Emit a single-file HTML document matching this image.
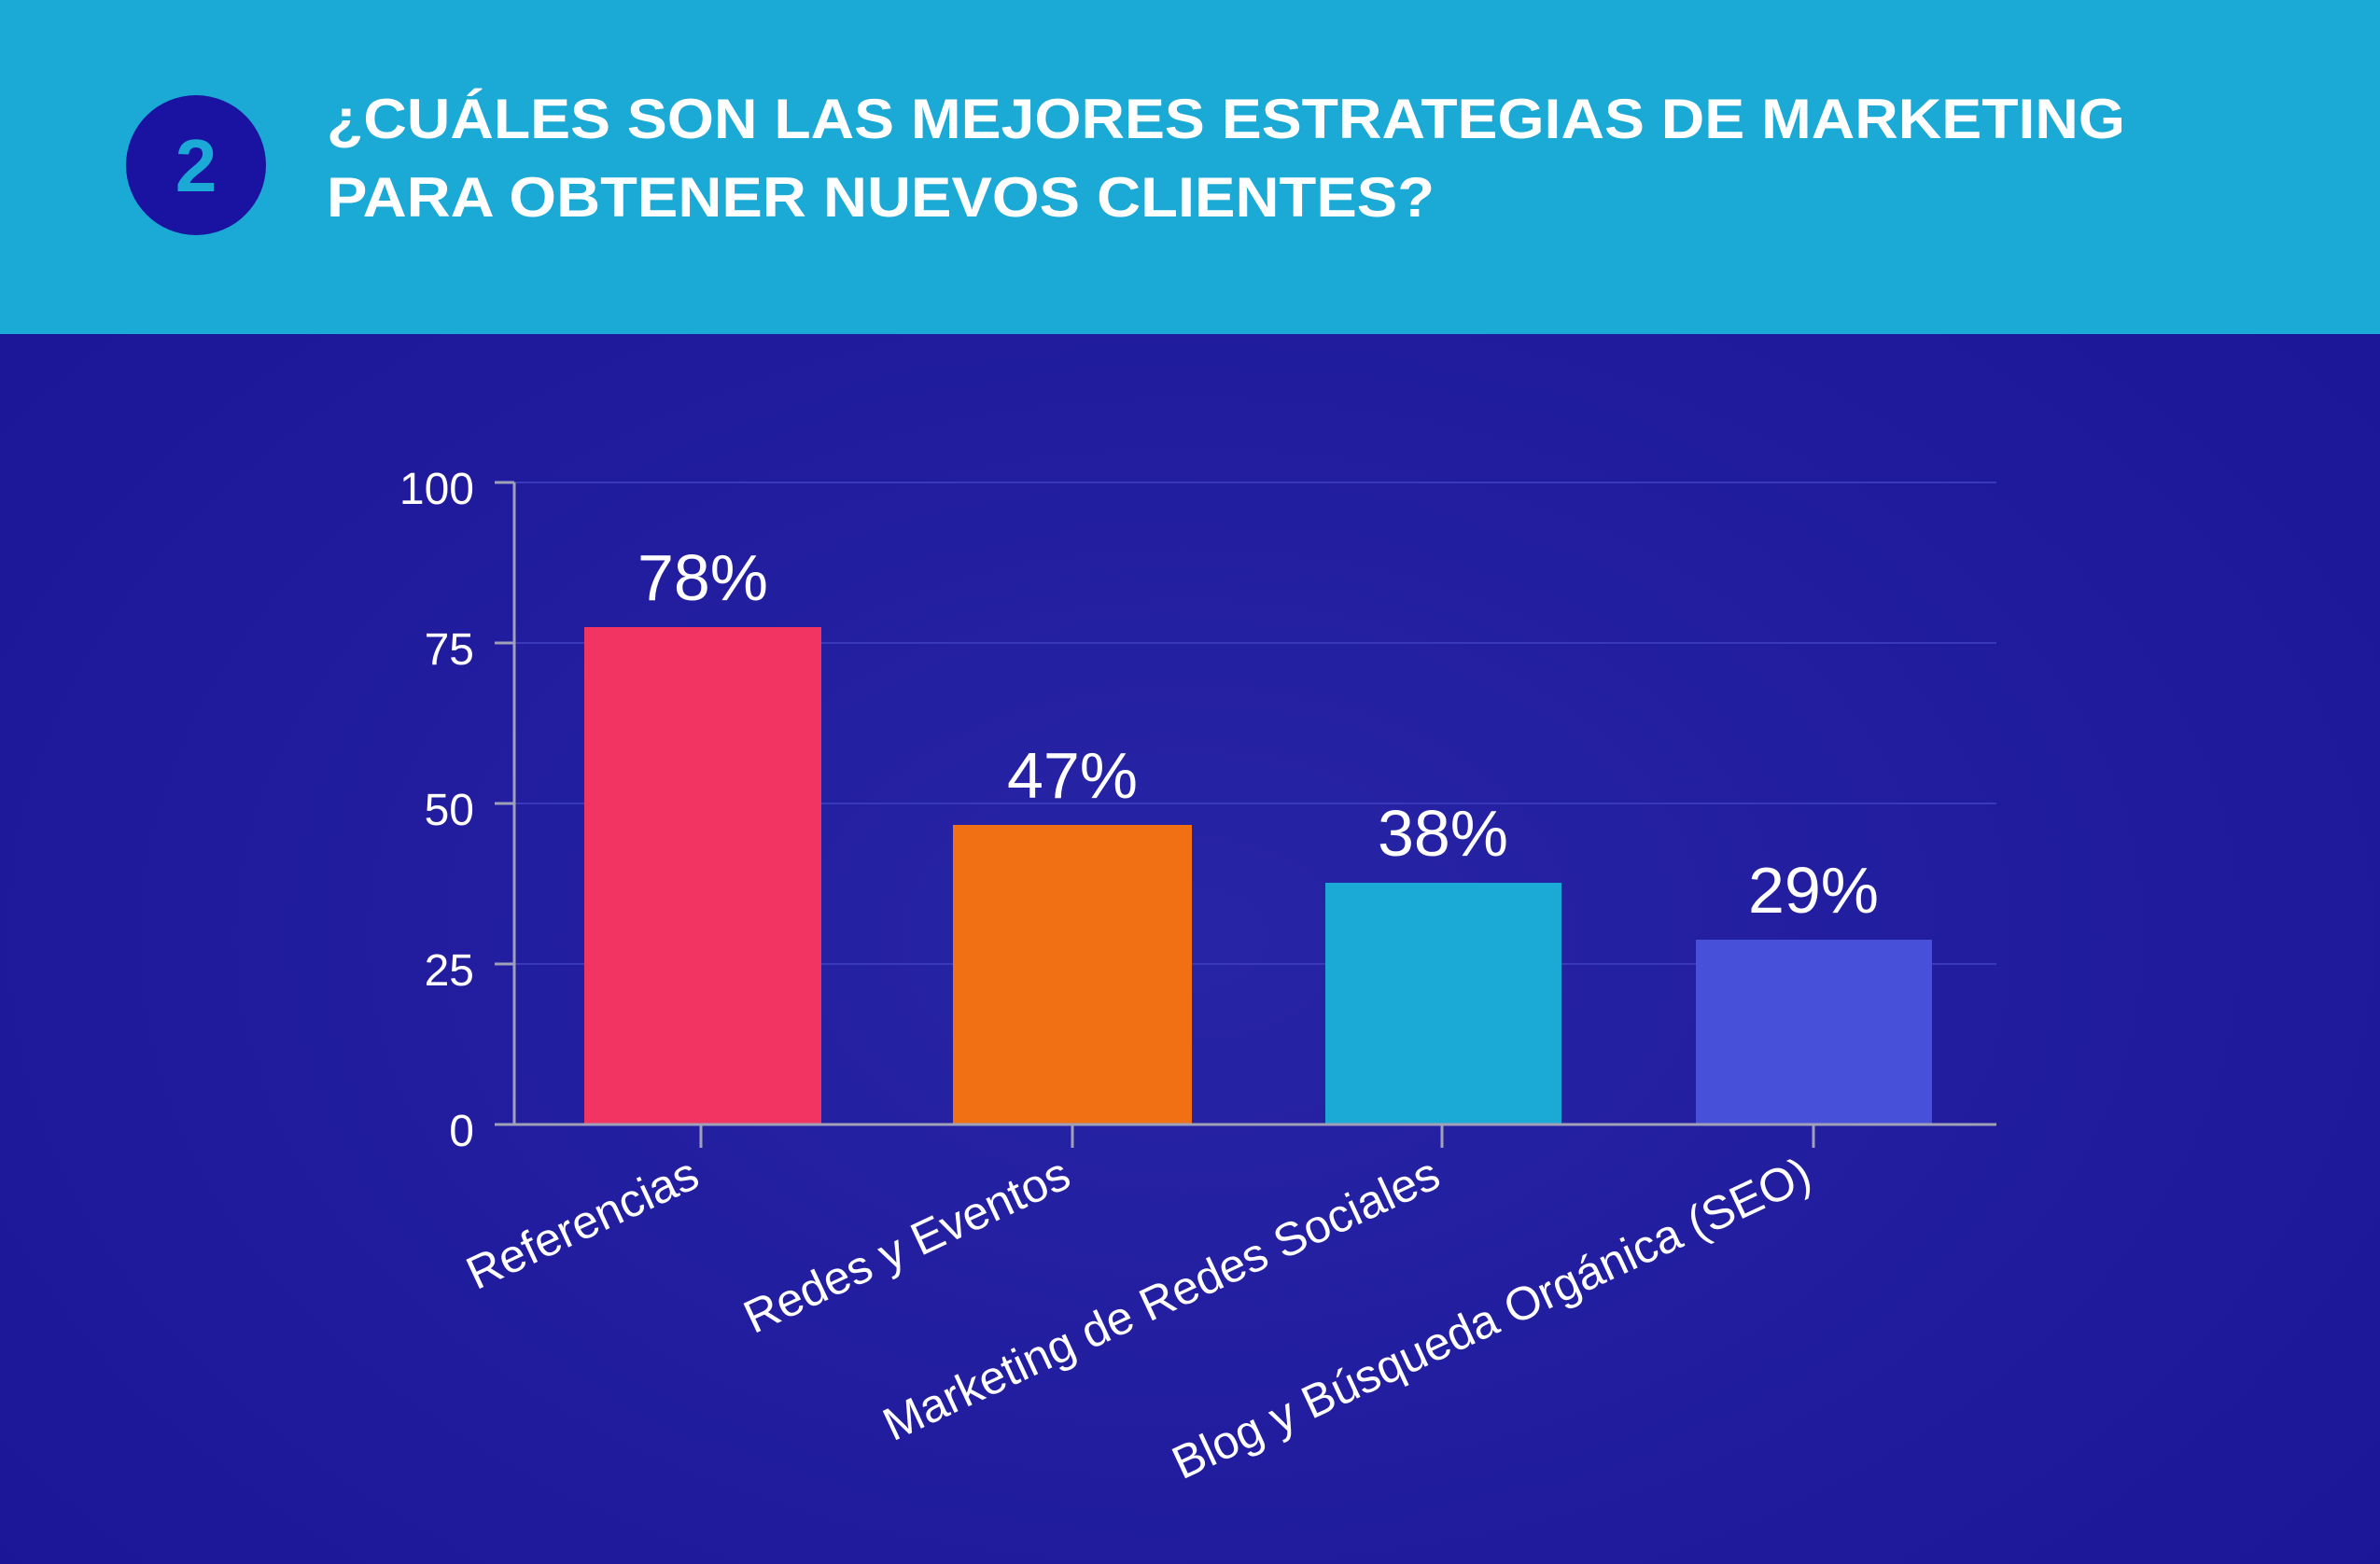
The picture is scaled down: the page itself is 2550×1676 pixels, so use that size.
<!DOCTYPE html>
<html><head><meta charset="utf-8"><style>
html,body{margin:0;padding:0;width:2550px;height:1676px;overflow:hidden;background:#1c1798}
svg{display:block}
</style></head><body>
<svg width="2550" height="1676" viewBox="0 0 2550 1676" xmlns="http://www.w3.org/2000/svg">
<defs>
<radialGradient id="bg" cx="0.5" cy="0.6" r="0.7">
<stop offset="0" stop-color="#2824a6"/>
<stop offset="1" stop-color="#1a1596"/>
</radialGradient>
</defs>
<rect x="0" y="0" width="2550" height="1676" fill="url(#bg)"/>
<rect x="0" y="0" width="2550" height="358" fill="#1ba9d5"/>
<circle cx="210" cy="177" r="75" fill="#1a12a0"/>
<text x="210" y="205" text-anchor="middle" font-family="Liberation Sans, sans-serif" font-weight="bold" font-size="80" fill="#1ba9d5">2</text>
<g font-family="Liberation Sans, sans-serif" font-weight="bold" font-size="60" fill="#ffffff">
<text x="350" y="148" textLength="1927" lengthAdjust="spacingAndGlyphs">¿CUÁLES SON LAS MEJORES ESTRATEGIAS DE MARKETING</text>
<text x="350" y="232" textLength="1187" lengthAdjust="spacingAndGlyphs">PARA OBTENER NUEVOS CLIENTES?</text>
</g>
<g stroke="#3a3ab8" stroke-width="2">
<line x1="551" y1="517" x2="2139" y2="517"/>
<line x1="551" y1="689" x2="2139" y2="689"/>
<line x1="551" y1="861" x2="2139" y2="861"/>
<line x1="551" y1="1033" x2="2139" y2="1033"/>
</g>
<rect x="626" y="672" width="254" height="533" fill="#f23462"/>
<rect x="1021" y="884" width="256" height="321" fill="#f07013"/>
<rect x="1420" y="946" width="253" height="259" fill="#1ba9d5"/>
<rect x="1817" y="1007" width="253" height="198" fill="#4650d8"/>
<g stroke="#a0a0b8" stroke-width="3" fill="none">
<line x1="551" y1="517" x2="551" y2="1205"/>
<line x1="551" y1="1205" x2="2139" y2="1205"/>
<line x1="530" y1="517" x2="551" y2="517"/>
<line x1="530" y1="689" x2="551" y2="689"/>
<line x1="530" y1="861" x2="551" y2="861"/>
<line x1="530" y1="1033" x2="551" y2="1033"/>
<line x1="530" y1="1205" x2="551" y2="1205"/>
<line x1="751" y1="1205" x2="751" y2="1230"/>
<line x1="1149" y1="1205" x2="1149" y2="1230"/>
<line x1="1545" y1="1205" x2="1545" y2="1230"/>
<line x1="1943" y1="1205" x2="1943" y2="1230"/>
</g>
<g font-family="Liberation Sans, sans-serif" font-size="48" fill="#ffffff" text-anchor="end">
<text x="508" y="540">100</text>
<text x="508" y="712">75</text>
<text x="508" y="884">50</text>
<text x="508" y="1056">25</text>
<text x="508" y="1228">0</text>
</g>
<g font-family="Liberation Sans, sans-serif" font-size="70" fill="#ffffff" text-anchor="middle">
<text x="753" y="643">78%</text>
<text x="1149" y="855">47%</text>
<text x="1546" y="917">38%</text>
<text x="1943" y="978">29%</text>
</g>
<g font-family="Liberation Sans, sans-serif" font-size="50" fill="#ffffff" text-anchor="end">
<text transform="translate(752,1270) rotate(-25)">Referencias</text>
<text transform="translate(1150,1270) rotate(-25)">Redes y Eventos</text>
<text transform="translate(1546,1270) rotate(-25)">Marketing de Redes Sociales</text>
<text transform="translate(1944,1270) rotate(-25)">Blog y Búsqueda Orgánica (SEO)</text>
</g>
</svg>
</body></html>
